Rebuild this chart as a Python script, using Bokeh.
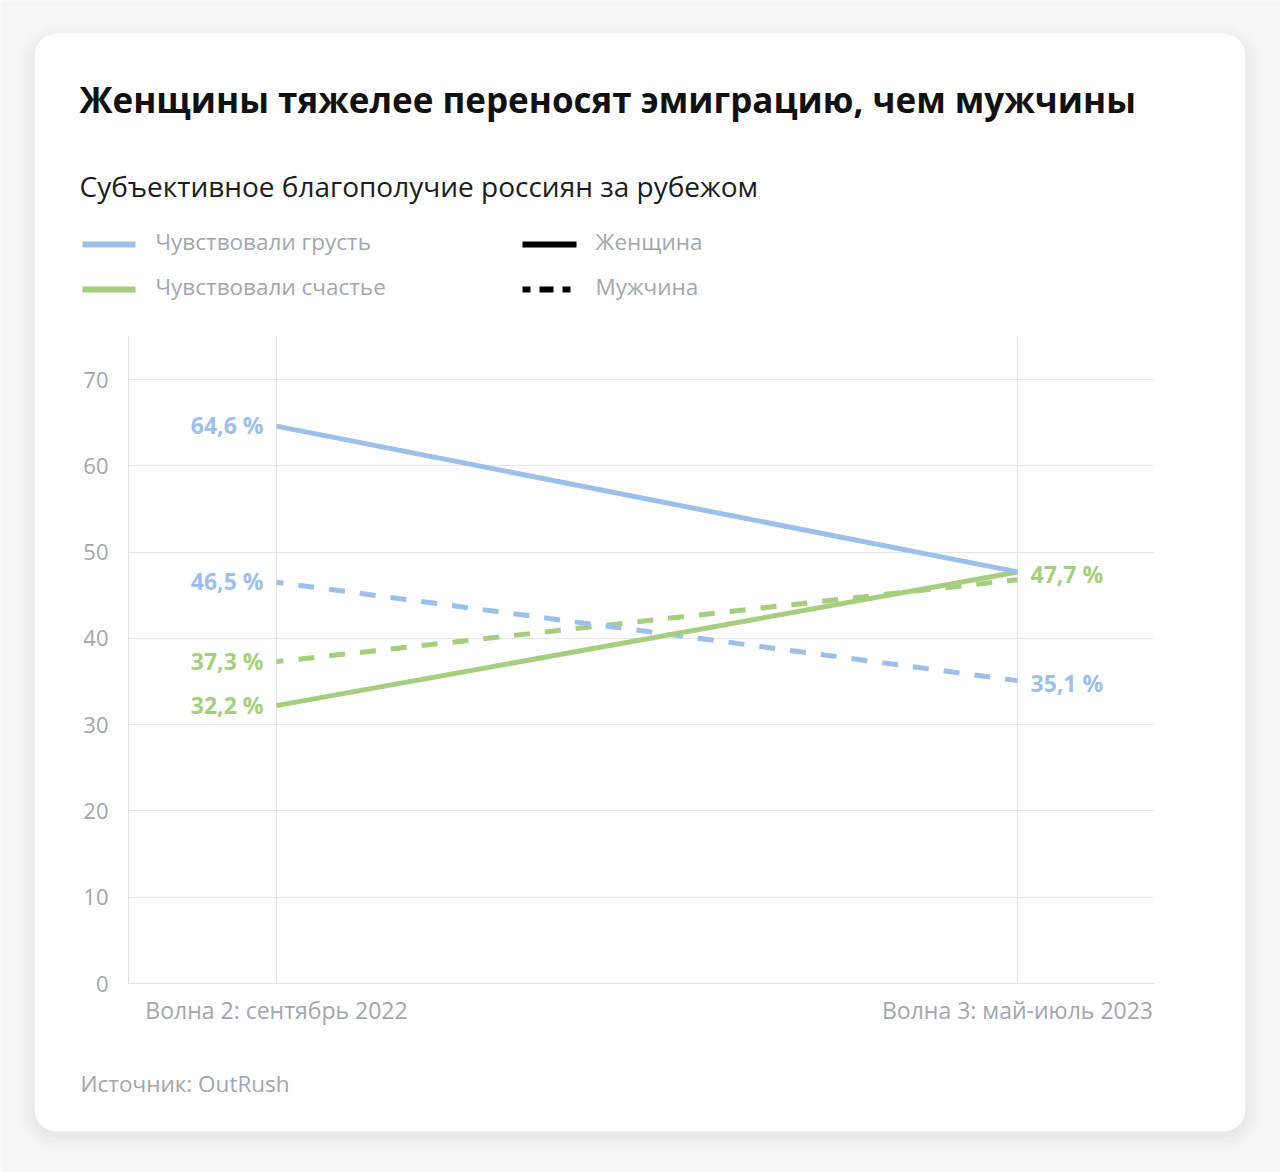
from bokeh.plotting import figure
from bokeh.models import (Range1d, FixedTicker, Label, Arrow, BoxAnnotation, ColumnDataSource,
                          LinearAxis, Grid)
from bokeh.core.properties import value
from bokeh.embed import file_html
from bokeh.resources import INLINE

# ---- data ----
waves = ["Волна 2: сентябрь 2022", "Волна 3: май-июль 2023"]
wave_pos = [0, 1]
sad_women = [64.6, 47.7]
sad_men = [46.5, 35.1]
happy_women = [32.2, 47.7]
happy_men = [37.3, 46.8]
y_ticks = [0, 10, 20, 30, 40, 50, 60, 70]

title = "Женщины тяжелее переносят эмиграцию, чем мужчины"
subtitle = "Субъективное благополучие россиян за рубежом"
source_txt = "Источник: OutRush"
legend_colors = ["Чувствовали грусть", "Чувствовали счастье"]
legend_styles = ["Женщина", "Мужчина"]

BLUE = "#9dc0ea"
GREEN = "#a5cf7f"
GREY = "#a3a7ac"
GRID = "#e3e6ea"
FONT = "Open Sans"

W, H = 1280, 1172
# pixel layout of the plotting area (page coordinates)
PX_X0, PX_X1 = 276, 1017      # pixel of x=0 and x=1
PX_Y0, PX_Y70 = 983, 379      # pixel of y=0 and y=70
ppx = PX_X1 - PX_X0
ppy = (PX_Y0 - PX_Y70) / 70.0
AX_LEFT, AX_RIGHT, AX_TOP = 128, 1153, 336


def px2x(px):
    return (px - PX_X0) / ppx


def px2y(py):
    return (PX_Y0 - py) / ppy


def fmt(v):
    return f"{v:.1f}".replace(".", ",") + " %"


p = figure(width=W, height=H, output_backend="svg", toolbar_location=None, tools="",
           x_range=Range1d(px2x(0), px2x(W)), y_range=Range1d(px2y(H), px2y(0)),
           x_axis_type=None, y_axis_type=None, min_border=0,
           border_fill_color="#f6f6f6", background_fill_color="#f6f6f6", outline_line_color=None)
p.title.visible = False
p.xgrid.visible = False
p.ygrid.visible = False
p.extra_x_ranges = {"px": Range1d(0, W)}
p.extra_y_ranges = {"px": Range1d(H, 0)}

# card with soft shadow
for i, a in enumerate([0.008, 0.010, 0.013, 0.018]):
    g = 14 - i * 4
    p.add_layout(BoxAnnotation(left=34 - g, right=1245 + g, top=33 - g + 5, bottom=1131 + g + 5,
                               x_range_name="px", y_range_name="px",
                               fill_color="black", fill_alpha=a, line_color=None, border_radius=22 + g,
                               level="image"))
p.add_layout(BoxAnnotation(left=34, right=1245, top=33, bottom=1131, x_range_name="px", y_range_name="px",
                           fill_color="white", fill_alpha=1, line_color=None, border_radius=22, level="image"))

# grids
x_left, x_right = px2x(AX_LEFT), px2x(AX_RIGHT)
y_top = px2y(AX_TOP)
p.add_layout(Grid(dimension=0, ticker=FixedTicker(ticks=wave_pos), cross_bounds=(0, y_top),
                  grid_line_color=GRID, grid_line_width=1))
p.add_layout(Grid(dimension=1, ticker=FixedTicker(ticks=y_ticks), cross_bounds=(x_left, x_right),
                  grid_line_color=GRID, grid_line_width=1))

# axes
xaxis = LinearAxis(ticker=FixedTicker(ticks=wave_pos), fixed_location=0, bounds=(x_left, x_right),
                   major_label_overrides={pos: w for pos, w in zip(wave_pos, waves)},
                   major_label_standoff=10)
yaxis = LinearAxis(ticker=FixedTicker(ticks=y_ticks), fixed_location=x_left, bounds=(0, y_top),
                   major_label_standoff=20, major_label_text_line_height=1.8)
for ax in (xaxis, yaxis):
    ax.major_tick_line_color = None
    ax.minor_tick_line_color = None
    ax.major_tick_out = 0
    ax.major_tick_in = 0
    ax.minor_tick_out = 0
    ax.axis_line_color = "#dfe2e6"
    ax.major_label_text_font = FONT
    ax.major_label_text_color = GREY
xaxis.major_label_text_font_size = "23px"
yaxis.major_label_text_font_size = "22px"
p.add_layout(xaxis, "below")
p.add_layout(yaxis, "left")

# lines
p.line(wave_pos, happy_men, line_color=GREEN, line_width=5, line_dash="16 15", line_dash_offset=9)
p.line(wave_pos, sad_men, line_color=BLUE, line_width=5, line_dash="16 15", line_dash_offset=9)
p.line(wave_pos, happy_women, line_color=GREEN, line_width=5)
p.line(wave_pos, sad_women, line_color=BLUE, line_width=5)

# value labels
left_vals = [sad_women[0], sad_men[0], happy_men[0], happy_women[0]]
left_src = ColumnDataSource(dict(
    x=[wave_pos[0]] * 4,
    y=left_vals,
    t=[fmt(v) for v in left_vals],
    c=[BLUE, BLUE, GREEN, GREEN],
))
p.text(x="x", y="y", text="t", text_color="c", source=left_src, text_align="right", text_baseline="middle",
       x_offset=-13, y_offset=-1, text_font=value(FONT), text_font_style="bold", text_font_size="23px")

right_src = ColumnDataSource(dict(
    x=[wave_pos[1]] * 2,
    y=[happy_women[1], sad_men[1]],
    t=[fmt(happy_women[1]), fmt(sad_men[1])],
    c=[GREEN, BLUE],
))
p.text(x="x", y="y", text="t", text_color="c", source=right_src, text_align="left", text_baseline="middle",
       x_offset=13, y_offset=2, text_font=value(FONT), text_font_style="bold", text_font_size="23px")


def px_label(x, y, text, size, color, style="normal"):
    p.add_layout(Label(x=x, y=y, x_range_name="px", y_range_name="px", text=text, text_font=FONT,
                       text_font_size=size, text_color=color, text_font_style=style,
                       text_baseline="middle", text_align="left"))


px_label(79, 99, title, "35px", "#111111", "bold")
px_label(79, 185, subtitle, "28px", "#1c1c1c")
px_label(80, 1083, source_txt, "22.5px", GREY)

# legend
leg = [
    (82, 244, BLUE, legend_colors[0]),
    (82, 289, GREEN, legend_colors[1]),
]
for x0, y0, col, txt in leg:
    p.add_layout(Arrow(x_start=x0, y_start=y0, x_end=x0 + 53, y_end=y0, x_range_name="px", y_range_name="px",
                       start=None, end=None, line_color=col, line_width=6))
    px_label(x0 + 73, y0 - 3, txt, "22.5px", GREY)

p.add_layout(Arrow(x_start=522, y_start=244, x_end=576, y_end=244, x_range_name="px", y_range_name="px",
                   start=None, end=None, line_color="black", line_width=6))
px_label(595, 241, legend_styles[0], "22.5px", GREY)
p.add_layout(Arrow(x_start=522, y_start=289, x_end=576, y_end=289, x_range_name="px", y_range_name="px",
                   start=None, end=None, line_color="black", line_width=6, line_dash="8 9 14 9 8"))
px_label(595, 286, legend_styles[1], "22.5px", GREY)

html = file_html(p, INLINE)
html = html.replace("<body>", '<body style="background:#f6f6f6">', 1)
open("out.html", "w").write(html)
